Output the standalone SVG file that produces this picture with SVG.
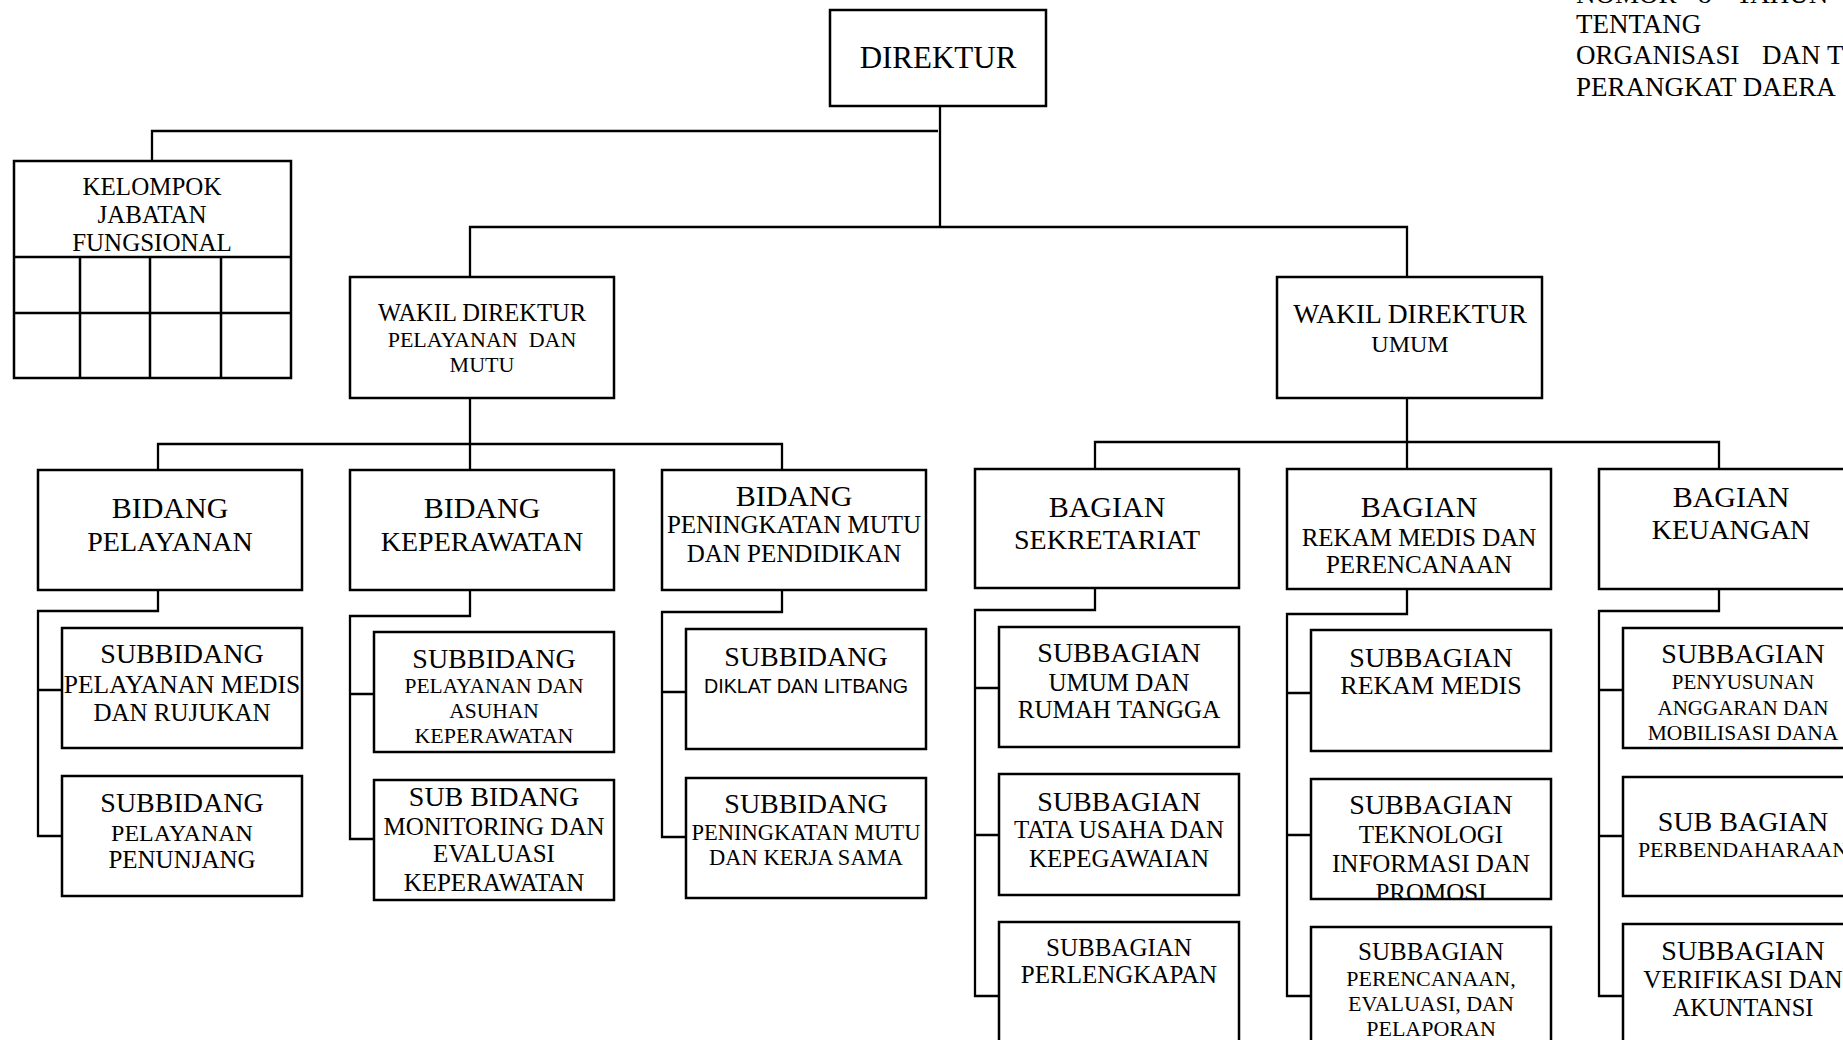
<svg xmlns="http://www.w3.org/2000/svg" width="1843" height="1040" viewBox="0 0 1843 1040">
<style>
.bx{fill:none;stroke:#000;stroke-width:2.5}
.cn{fill:none;stroke:#000;stroke-width:2.3}
text{font-family:"Liberation Serif","Times New Roman",serif;fill:#000;text-anchor:middle;white-space:pre}
.f31{font-size:31px}.f30{font-size:30px}.f28{font-size:28px}.f27{font-size:27px}.f26{font-size:26px}.f25{font-size:25px}.f24{font-size:24px}.f23{font-size:23px}.f22{font-size:22px}.f21{font-size:21px}
.hd{font-size:27px;text-anchor:start}
.sans{font-family:"Liberation Sans Narrow","Liberation Sans",Arial,sans-serif;font-size:21px}
</style>
<defs>
<clipPath id="clipTip"><rect x="1311" y="779" width="240" height="119"/></clipPath>
</defs>
<rect width="1843" height="1040" fill="#fff"/>

<g id="header">
<text class="hd" y="3"><tspan x="1576">NOMOR</tspan><tspan x="1698">8</tspan><tspan x="1736">TAHUN</tspan></text>
<text class="hd" x="1576" y="33">TENTANG</text>
<text class="hd" y="64"><tspan x="1576">ORGANISASI</tspan><tspan x="1762">DAN</tspan><tspan x="1827">T</tspan></text>
<text class="hd" x="1576" y="96">PERANGKAT DAERA</text>
</g>

<g id="connectors">
<path class="cn" d="M152,161 V131 H938"/>
<path class="cn" d="M940,106 V227"/>
<path class="cn" d="M470,277 V227 H1407 V277"/>
<path class="cn" d="M470,398 V470"/>
<path class="cn" d="M158,470 V444 H782 V470"/>
<path class="cn" d="M1407,398 V469"/>
<path class="cn" d="M1095,469 V442 H1719 V469"/>
<path class="cn" d="M158,590 V611 H38 V836 H62 M38,690 H62"/>
<path class="cn" d="M470,590 V616 H350 V839 H374 M350,694 H374"/>
<path class="cn" d="M782,590 V612 H662 V837 H686 M662,692 H686"/>
<path class="cn" d="M1095,588 V610 H975 V996 H999 M975,688 H999 M975,835 H999"/>
<path class="cn" d="M1407,589 V614 H1287 V996 H1311 M1287,693 H1311 M1287,835 H1311"/>
<path class="cn" d="M1719,588 V611 H1599 V996 H1623 M1599,690 H1623 M1599,836 H1623"/>
</g>

<g id="direktur">
<rect class="bx" x="830" y="10" width="216" height="96"/>
<text class="f31" x="938" y="68">DIREKTUR</text>
</g>

<g id="kelompok">
<rect class="bx" x="14" y="161" width="277" height="217"/>
<path class="bx" d="M14,257 H291 M14,313 H291 M80,257 V378 M150,257 V378 M221,257 V378"/>
<text class="f25" x="152" y="195">KELOMPOK</text>
<text class="f25" x="152" y="223">JABATAN</text>
<text class="f25" x="152" y="251">FUNGSIONAL</text>
</g>

<g id="wadir-pelayanan">
<rect class="bx" x="350" y="277" width="264" height="121"/>
<text x="482" y="321" style="font-size:24.5px">WAKIL DIREKTUR</text>
<text class="f22" x="482" y="347">PELAYANAN  DAN</text>
<text class="f22" x="482" y="372">MUTU</text>
</g>

<g id="wadir-umum">
<rect class="bx" x="1277" y="277" width="265" height="121"/>
<text x="1410" y="323" style="font-size:27.5px">WAKIL DIREKTUR</text>
<text class="f24" x="1410" y="352">UMUM</text>
</g>

<g id="bidang-pelayanan">
<rect class="bx" x="38" y="470" width="264" height="120"/>
<text class="f30" x="170" y="518">BIDANG</text>
<text class="f28" x="170" y="551">PELAYANAN</text>
</g>

<g id="bidang-keperawatan">
<rect class="bx" x="350" y="470" width="264" height="120"/>
<text class="f30" x="482" y="518">BIDANG</text>
<text class="f28" x="482" y="551">KEPERAWATAN</text>
</g>

<g id="bidang-mutu">
<rect class="bx" x="662" y="470" width="264" height="120"/>
<text class="f30" x="794" y="506">BIDANG</text>
<text class="f25" x="794" y="533">PENINGKATAN MUTU</text>
<text class="f25" x="794" y="562">DAN PENDIDIKAN</text>
</g>

<g id="bagian-sekretariat">
<rect class="bx" x="975" y="469" width="264" height="119"/>
<text class="f30" x="1107" y="517">BAGIAN</text>
<text class="f28" x="1107" y="549">SEKRETARIAT</text>
</g>

<g id="bagian-rekam-medis">
<rect class="bx" x="1287" y="469" width="264" height="120"/>
<text class="f30" x="1419" y="517">BAGIAN</text>
<text class="f25" x="1419" y="546">REKAM MEDIS DAN</text>
<text class="f25" x="1419" y="573">PERENCANAAN</text>
</g>

<g id="bagian-keuangan">
<rect class="bx" x="1599" y="469" width="264" height="120"/>
<text class="f30" x="1731" y="507">BAGIAN</text>
<text class="f28" x="1731" y="539">KEUANGAN</text>
</g>

<g id="sub-pelayanan-medis">
<rect class="bx" x="62" y="628" width="240" height="120"/>
<text class="f28" x="182" y="663">SUBBIDANG</text>
<text x="182" y="693" style="font-size:25.5px">PELAYANAN MEDIS</text>
<text class="f25" x="182" y="721">DAN RUJUKAN</text>
</g>

<g id="sub-pelayanan-penunjang">
<rect class="bx" x="62" y="776" width="240" height="120"/>
<text class="f28" x="182" y="812">SUBBIDANG</text>
<text class="f24" x="182" y="841">PELAYANAN</text>
<text class="f25" x="182" y="868">PENUNJANG</text>
</g>

<g id="sub-asuhan-keperawatan">
<rect class="bx" x="374" y="632" width="240" height="120"/>
<text class="f28" x="494" y="668">SUBBIDANG</text>
<text x="494" y="693" style="font-size:21.5px">PELAYANAN DAN</text>
<text x="494" y="718" style="font-size:21.5px">ASUHAN</text>
<text class="f22" x="494" y="743">KEPERAWATAN</text>
</g>

<g id="sub-monev-keperawatan">
<rect class="bx" x="374" y="780" width="240" height="120"/>
<text class="f28" x="494" y="806">SUB BIDANG</text>
<text class="f25" x="494" y="835">MONITORING DAN</text>
<text class="f25" x="494" y="862">EVALUASI</text>
<text class="f25" x="494" y="891">KEPERAWATAN</text>
</g>

<g id="sub-diklat">
<rect class="bx" x="686" y="629" width="240" height="120"/>
<text class="f28" x="806" y="666">SUBBIDANG</text>
<text class="sans" x="806" y="693" textLength="204" lengthAdjust="spacingAndGlyphs">DIKLAT DAN LITBANG</text>
</g>

<g id="sub-mutu-kerjasama">
<rect class="bx" x="686" y="778" width="240" height="120"/>
<text class="f28" x="806" y="813">SUBBIDANG</text>
<text x="806" y="840" style="font-size:22.5px">PENINGKATAN MUTU</text>
<text x="806" y="865" style="font-size:22.5px">DAN KERJA SAMA</text>
</g>

<g id="sub-umum-rt">
<rect class="bx" x="999" y="627" width="240" height="120"/>
<text class="f28" x="1119" y="662">SUBBAGIAN</text>
<text class="f25" x="1119" y="691">UMUM DAN</text>
<text class="f25" x="1119" y="718">RUMAH TANGGA</text>
</g>

<g id="sub-tata-usaha">
<rect class="bx" x="999" y="774" width="240" height="121"/>
<text class="f28" x="1119" y="811">SUBBAGIAN</text>
<text class="f25" x="1119" y="838">TATA USAHA DAN</text>
<text class="f25" x="1119" y="867">KEPEGAWAIAN</text>
</g>

<g id="sub-perlengkapan">
<rect class="bx" x="999" y="922" width="240" height="130"/>
<text class="f25" x="1119" y="956">SUBBAGIAN</text>
<text class="f25" x="1119" y="983">PERLENGKAPAN</text>
</g>

<g id="sub-rekam-medis">
<rect class="bx" x="1311" y="630" width="240" height="121"/>
<text class="f28" x="1431" y="667">SUBBAGIAN</text>
<text class="f26" x="1431" y="694">REKAM MEDIS</text>
</g>

<g id="sub-teknologi">
<g clip-path="url(#clipTip)">
<text class="f28" x="1431" y="814">SUBBAGIAN</text>
<text class="f25" x="1431" y="843">TEKNOLOGI</text>
<text class="f25" x="1431" y="872">INFORMASI DAN</text>
<text class="f25" x="1431" y="901">PROMOSI</text>
</g>
<rect class="bx" x="1311" y="779" width="240" height="120"/>
</g>

<g id="sub-perencanaan">
<rect class="bx" x="1311" y="927" width="240" height="130"/>
<text class="f25" x="1431" y="960">SUBBAGIAN</text>
<text class="f22" x="1431" y="986">PERENCANAAN,</text>
<text class="f22" x="1431" y="1011">EVALUASI, DAN</text>
<text class="f22" x="1431" y="1036">PELAPORAN</text>
</g>

<g id="sub-anggaran">
<rect class="bx" x="1623" y="628" width="240" height="120"/>
<text class="f28" x="1743" y="663">SUBBAGIAN</text>
<text class="f21" x="1743" y="689">PENYUSUNAN</text>
<text class="f21" x="1743" y="715">ANGGARAN DAN</text>
<text x="1743" y="740" style="font-size:21.5px">MOBILISASI DANA</text>
</g>

<g id="sub-perbendaharaan">
<rect class="bx" x="1623" y="777" width="240" height="119"/>
<text class="f28" x="1743" y="831">SUB BAGIAN</text>
<text class="f22" x="1743" y="857">PERBENDAHARAAN</text>
</g>

<g id="sub-verifikasi">
<rect class="bx" x="1623" y="924" width="240" height="130"/>
<text class="f28" x="1743" y="960">SUBBAGIAN</text>
<text class="f25" x="1743" y="988">VERIFIKASI DAN</text>
<text x="1743" y="1016" style="font-size:24.5px">AKUNTANSI</text>
</g>
</svg>
